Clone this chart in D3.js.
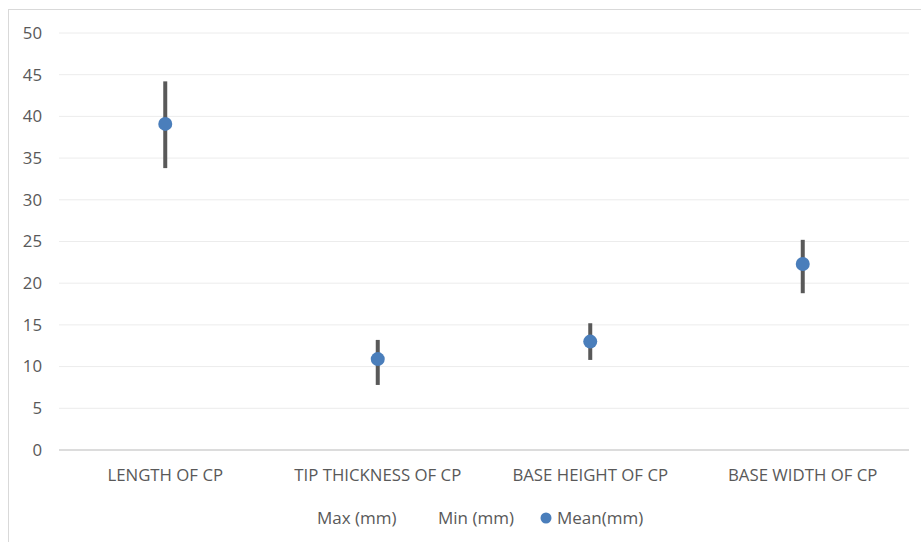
<!DOCTYPE html>
<html><head><meta charset="utf-8">
<script src="https://cdn.jsdelivr.net/npm/d3@7"></script>
<style>body{margin:0;background:#fff}svg{display:block}text{font-family:"Open Sans",sans-serif;fill:#595959}</style>
</head><body><svg id="c" width="921" height="542"></svg>
<script>
const categories = ["LENGTH OF CP","TIP THICKNESS OF CP","BASE HEIGHT OF CP","BASE WIDTH OF CP"];
const maxVals = [44.2, 13.2, 15.2, 25.2];
const minVals = [33.8, 7.8, 10.8, 18.8];
const meanVals = [39.1, 10.9, 13.0, 22.3];
const yTicks = [0,5,10,15,20,25,30,35,40,45,50];
const legendLabels = ["Max (mm)","Min (mm)","Mean(mm)"];

const svg = d3.select("#c");
svg.append("rect").attr("x",8.5).attr("y",9.5).attr("width",920).attr("height",540)
  .attr("fill","#fff").attr("stroke","#d9d9d9");
const x = d3.scaleBand().domain(categories).range([59,909]);
const y = d3.scaleLinear().domain([0,50]).range([450,33]);

svg.append("g").selectAll("line").data(yTicks.filter(t=>t>0)).join("line")
  .attr("x1",59).attr("x2",909).attr("y1",d=>y(d)).attr("y2",d=>y(d))
  .attr("stroke","#ececec").attr("stroke-width",1);
svg.append("line").attr("x1",59).attr("x2",909).attr("y1",y(0)).attr("y2",y(0))
  .attr("stroke","#d0d0d0").attr("stroke-width",1.3);

svg.append("g").selectAll("text").data(yTicks).join("text")
  .attr("x",42).attr("y",d=>y(d)).attr("dy","0.35em").attr("text-anchor","end")
  .attr("font-size",16.8).text(d=>d);

svg.append("g").selectAll("text").data(categories).join("text")
  .attr("x",d=>x(d)+x.bandwidth()/2).attr("y",475).attr("dy","0.35em").attr("text-anchor","middle")
  .attr("font-size",16.8).text(d=>d);

const g = svg.append("g");
categories.forEach((c,i)=>{
  const cx = x(c)+x.bandwidth()/2;
  g.append("line").attr("x1",cx).attr("x2",cx).attr("y1",y(maxVals[i])).attr("y2",y(minVals[i]))
    .attr("stroke","#595959").attr("stroke-width",4);
  g.append("circle").attr("cx",cx).attr("cy",y(meanVals[i])).attr("r",7).attr("fill","#4a7ebb");
});

// legend
const lg = svg.append("g").attr("font-size",17);
lg.append("text").attr("x",317).attr("y",518).attr("dy","0.35em").text(legendLabels[0]);
lg.append("text").attr("x",438).attr("y",518).attr("dy","0.35em").text(legendLabels[1]);
lg.append("circle").attr("cx",546).attr("cy",518).attr("r",5.5).attr("fill","#4a7ebb");
lg.append("text").attr("x",557).attr("y",518).attr("dy","0.35em").text(legendLabels[2]);
</script></body></html>
